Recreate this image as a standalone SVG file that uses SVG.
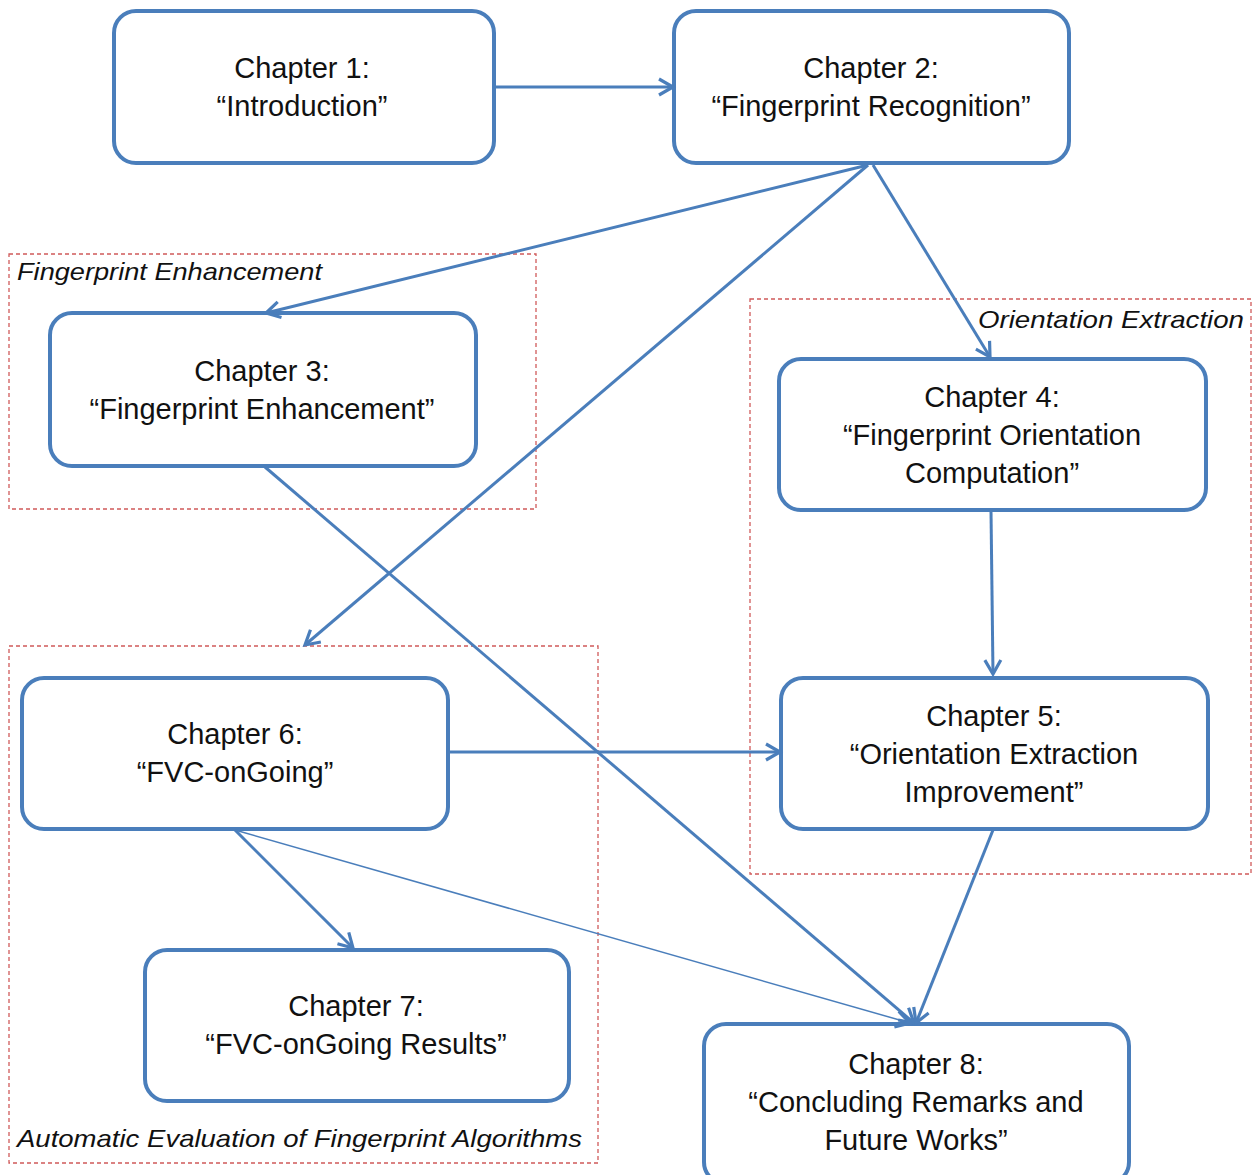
<svg xmlns="http://www.w3.org/2000/svg" width="1259" height="1175" viewBox="0 0 1259 1175">
<style>
.node rect{fill:#fff;stroke:#4a7ebb;stroke-width:4}
.node text{font-family:"Liberation Sans","Noto Sans",sans-serif;font-size:29px;fill:#111;text-anchor:middle}
.grp rect{fill:none;stroke:#d05a5a;stroke-width:1.3;stroke-dasharray:4 3}
.grp text{font-family:"Liberation Sans","Noto Sans",sans-serif;font-style:italic;font-size:24px;fill:#111}
.conn line{stroke:#4a7ebb;stroke-width:3;fill:none;marker-end:url(#arr)}
</style>
<defs>
<marker id="arr" viewBox="-18 -10 20 20" refX="0" refY="0" markerWidth="20" markerHeight="20" markerUnits="userSpaceOnUse" orient="auto" overflow="visible">
<path d="M-14,-8 L0,0 L-14,8" fill="none" stroke="#4a7ebb" stroke-width="3.2" stroke-linejoin="miter"/>
</marker>
</defs>
<rect width="1259" height="1175" fill="#fff"/>
<g id="groups" class="grp">
<g id="grp-enh"><rect x="9" y="254" width="527" height="255"/><text x="17" y="280" textLength="305" lengthAdjust="spacingAndGlyphs">Fingerprint Enhancement</text></g>
<g id="grp-ori"><rect x="750" y="299" width="501" height="575"/><text x="978" y="328" textLength="266" lengthAdjust="spacingAndGlyphs">Orientation Extraction</text></g>
<g id="grp-auto"><rect x="9" y="646" width="589" height="517"/><text x="17" y="1147" textLength="565" lengthAdjust="spacingAndGlyphs">Automatic Evaluation of Fingerprint Algorithms</text></g>
</g>
<g id="nodes">
<g id="ch1" class="node"><rect x="114" y="11" width="380" height="152" rx="22"/><text x="302" y="78">Chapter 1:</text><text x="302" y="116">“Introduction”</text></g>
<g id="ch2" class="node"><rect x="674" y="11" width="395" height="152" rx="22"/><text x="871" y="78">Chapter 2:</text><text x="871" y="116">“Fingerprint Recognition”</text></g>
<g id="ch3" class="node"><rect x="50" y="313" width="426" height="153" rx="22"/><text x="262" y="381">Chapter 3:</text><text x="262" y="419">“Fingerprint Enhancement”</text></g>
<g id="ch4" class="node"><rect x="779" y="359" width="427" height="151" rx="22"/><text x="992" y="407">Chapter 4:</text><text x="992" y="445">“Fingerprint Orientation</text><text x="992" y="483">Computation”</text></g>
<g id="ch5" class="node"><rect x="781" y="678" width="427" height="151" rx="22"/><text x="994" y="726">Chapter 5:</text><text x="994" y="764">“Orientation Extraction</text><text x="994" y="802">Improvement”</text></g>
<g id="ch6" class="node"><rect x="22" y="678" width="426" height="151" rx="22"/><text x="235" y="744">Chapter 6:</text><text x="235" y="782">“FVC-onGoing”</text></g>
<g id="ch7" class="node"><rect x="145" y="950" width="424" height="151" rx="22"/><text x="356" y="1016">Chapter 7:</text><text x="356" y="1054">“FVC-onGoing Results”</text></g>
<g id="ch8" class="node"><rect x="704" y="1024" width="425" height="160" rx="22"/><text x="916" y="1074">Chapter 8:</text><text x="916" y="1112">“Concluding Remarks and</text><text x="916" y="1150">Future Works”</text></g>
</g>
<g id="connectors" class="conn">
<line x1="494" y1="87" x2="673" y2="87"/>
<line x1="868" y1="165" x2="266" y2="313"/>
<line x1="868" y1="165" x2="305" y2="645"/>
<line x1="873" y1="165" x2="990" y2="357"/>
<line x1="991" y1="511" x2="993" y2="674"/>
<line x1="265" y1="467" x2="914" y2="1023"/>
<line x1="449" y1="752" x2="780" y2="752"/>
<line x1="235" y1="830" x2="353" y2="948"/>
<line x1="235" y1="830" x2="910" y2="1023" style="stroke-width:1.5"/>
<line x1="993" y1="830" x2="916" y2="1023"/>
</g>
</svg>
